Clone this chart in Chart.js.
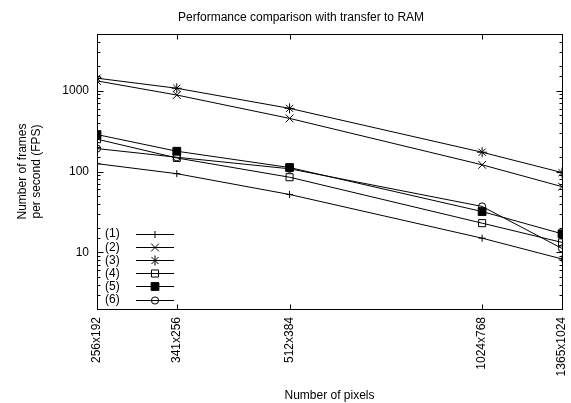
<!DOCTYPE html>
<html>
<head>
<meta charset="utf-8">
<script src="https://cdn.jsdelivr.net/npm/chart.js@4.4.0/dist/chart.umd.min.js"></script>
<style>
  html, body { margin: 0; padding: 0; background: #fff; }
</style>
</head>
<body>
<canvas id="perfChart" width="571" height="403"></canvas>
<script>
// data (FPS, log scale)
const resolutions = ['256x192', '341x256', '512x384', '1024x768', '1365x1024'];
const pixelCounts = [49152, 87296, 196608, 786432, 1397760];
const fps1 = [125, 94, 52, 15, 8.3];
const fps2 = [1316, 881, 453, 121, 65];
const fps3 = [1422, 1068, 603, 173, 97];
const fps4 = [251, 147, 85, 23, 13.3];
const fps5 = [286, 178, 112, 32, 17];
const fps6 = [192, 150, 108, 37, 11.2];
const seriesLabels = ['(1)', '(2)', '(3)', '(4)', '(5)', '(6)'];
const yTickLabels = [10, 100, 1000];
const chartTitle = 'Performance comparison with transfer to RAM';

Chart.defaults.font.family = "'Liberation Sans', Arial, sans-serif";
Chart.defaults.font.size = 12;
Chart.defaults.color = '#000';

const markers = [
    { pointStyle: 'cross', pointRadius: 3.5, fill: 'rgba(0,0,0,0)' },
    { pointStyle: 'crossRot', pointRadius: 5.5, fill: 'rgba(0,0,0,0)' },
    { pointStyle: 'star', pointRadius: 5, fill: 'rgba(0,0,0,0)' },
    { pointStyle: 'rect', pointRadius: 5, fill: 'rgba(0,0,0,0)' },
    { pointStyle: 'rect', pointRadius: 5.5, fill: '#000' },
    { pointStyle: 'circle', pointRadius: 3.6, fill: 'rgba(0,0,0,0)' }
];

const allSeries = [fps1, fps2, fps3, fps4, fps5, fps6];

const datasets = allSeries.map((vals, i) => ({
    label: seriesLabels[i],
    data: pixelCounts.map((x, j) => ({ x: x, y: vals[j] })),
    borderColor: '#000',
    borderWidth: 1,
    backgroundColor: markers[i].fill,
    pointBackgroundColor: markers[i].fill,
    pointBorderColor: '#000',
    pointBorderWidth: 1,
    pointStyle: markers[i].pointStyle,
    pointRadius: markers[i].pointRadius,
    tension: 0,
    fill: false
}));

// frame, inside ticks, title and the in-plot legend
const gnuplotLook = {
    id: 'gnuplotLook',
    afterDraw(chart) {
        const ctx = chart.ctx;
        const area = chart.chartArea;
        const xs = chart.scales.x;
        const ys = chart.scales.y;
        const L = Math.round(area.left) + 0.5, R = Math.round(area.right) + 0.5;
        const T = Math.round(area.top) + 0.5, B = Math.round(area.bottom) + 0.5;

        ctx.save();
        ctx.strokeStyle = '#000';
        ctx.lineWidth = 1;
        ctx.strokeRect(L, T, R - L, B - T);

        ctx.beginPath();
        xs.ticks.forEach(t => {
            const px = Math.round(xs.getPixelForValue(t.value)) + 0.5;
            ctx.moveTo(px, B); ctx.lineTo(px, B - 5);
            ctx.moveTo(px, T); ctx.lineTo(px, T + 5);
        });
        ys.ticks.forEach(t => {
            const lg = Math.log10(t.value);
            const len = Math.abs(lg - Math.round(lg)) < 1e-9 ? 6 : 3;
            const py = Math.round(ys.getPixelForValue(t.value)) + 0.5;
            ctx.moveTo(L, py); ctx.lineTo(L + len, py);
            ctx.moveTo(R, py); ctx.lineTo(R - len, py);
        });
        ctx.stroke();

        // title
        ctx.fillStyle = '#000';
        ctx.font = "12px 'Liberation Sans', Arial, sans-serif";
        ctx.textAlign = 'center';
        ctx.textBaseline = 'middle';
        ctx.fillText(chartTitle, 301, 17.5);

        // legend, lower left inside the plot
        chart.data.datasets.forEach((ds, i) => {
            const y = 233.5 + i * 13.2;
            ctx.fillStyle = '#000';
            ctx.textAlign = 'left';
            ctx.fillText(ds.label, 105, y + 0.5);
            ctx.beginPath();
            ctx.moveTo(136, Math.round(y) + 0.5);
            ctx.lineTo(174, Math.round(y) + 0.5);
            ctx.stroke();
            ctx.fillStyle = ds.pointBackgroundColor;
            Chart.helpers.drawPoint(ctx, {
                pointStyle: ds.pointStyle,
                radius: ds.pointRadius,
                rotation: 0,
                borderWidth: 1
            }, 155, Math.round(y) + 0.5);
        });
        ctx.restore();
    }
};

const ctx = document.getElementById('perfChart').getContext('2d');
new Chart(ctx, {
    type: 'line',
    data: { datasets: datasets },
    options: {
        responsive: false,
        animation: false,
        layout: { padding: { top: 34, right: 9, left: 0, bottom: 0 } },
        plugins: {
            legend: { display: false },
            tooltip: { enabled: false },
            title: { display: false }
        },
        scales: {
            x: {
                type: 'logarithmic',
                min: pixelCounts[0],
                max: pixelCounts[pixelCounts.length - 1],
                grid: { display: false, drawTicks: false },
                border: { display: false },
                afterBuildTicks: s => { s.ticks = pixelCounts.map(v => ({ value: v })); },
                afterFit: s => {
                    s.height = 94;
                    s.paddingLeft = 0;
                    s.paddingRight = 0;
                },
                ticks: {
                    autoSkip: false,
                    minRotation: 90,
                    maxRotation: 90,
                    padding: 8,
                    callback: (v, i) => resolutions[i]
                },
                title: {
                    display: true,
                    text: 'Number of pixels',
                    padding: { top: 0, bottom: 0 }
                }
            },
            y: {
                type: 'logarithmic',
                min: 2,
                max: 5000,
                grid: { display: false, drawTicks: false },
                border: { display: false },
                afterFit: s => {
                    s.width = 97;
                    s.paddingTop = 0;
                    s.paddingBottom = 0;
                },
                ticks: {
                    autoSkip: false,
                    padding: 8,
                    callback: v => yTickLabels.includes(v) ? String(v) : ''
                },
                title: {
                    display: true,
                    text: ['Number of frames', 'per second (FPS)'],
                    padding: { top: 15, bottom: 0 }
                }
            }
        }
    },
    plugins: [gnuplotLook]
});
</script>
</body>
</html>
